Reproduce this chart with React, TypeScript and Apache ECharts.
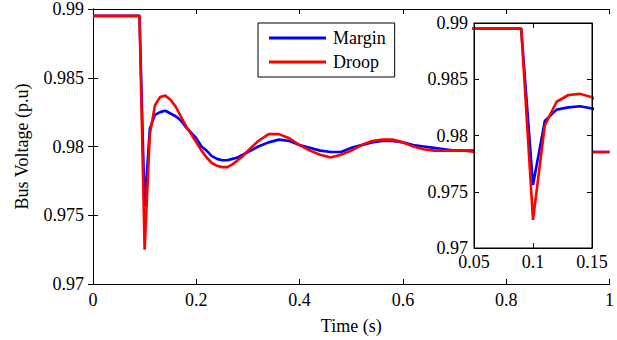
import React, { useEffect, useRef } from "react";
import * as echarts from "echarts";

const time = [0, 0.09, 0.10, 0.11, 0.12, 0.13, 0.14, 0.15, 0.16, 0.17, 0.18, 0.19, 0.20, 0.21, 0.22, 0.23, 0.24, 0.25, 0.26, 0.27, 0.28, 0.29, 0.30, 0.32, 0.34, 0.36, 0.38, 0.40, 0.42, 0.44, 0.46, 0.48, 0.50, 0.52, 0.54, 0.56, 0.58, 0.60, 0.62, 0.64, 0.66, 0.68, 0.70, 0.72, 0.74, 0.80, 0.90, 1.00];
const droop = [0.9895, 0.9895, 0.9725, 0.9809, 0.9830, 0.9836, 0.9837, 0.9834, 0.9829, 0.9822, 0.9815, 0.9809, 0.9803, 0.9797, 0.9792, 0.9788, 0.9786, 0.9785, 0.9785, 0.9787, 0.9790, 0.9793, 0.9797, 0.9804, 0.9809, 0.9809, 0.9806, 0.9801, 0.9797, 0.9794, 0.9792, 0.9794, 0.9797, 0.9801, 0.9804, 0.9805, 0.9805, 0.9803, 0.9800, 0.9798, 0.9797, 0.9797, 0.9797, 0.9797, 0.9796, 0.9796, 0.9796, 0.9796];
const margin = [0.9895, 0.9895, 0.9756, 0.9813, 0.9823, 0.9825, 0.9826, 0.9824, 0.9822, 0.9819, 0.9814, 0.9810, 0.9806, 0.9800, 0.9797, 0.9793, 0.9791, 0.9790, 0.9790, 0.9791, 0.9792, 0.9794, 0.9796, 0.9800, 0.9803, 0.9805, 0.9804, 0.9801, 0.9799, 0.9797, 0.9796, 0.9796, 0.9799, 0.9801, 0.9803, 0.9804, 0.9804, 0.9803, 0.9801, 0.9800, 0.9799, 0.9798, 0.9797, 0.9797, 0.9797, 0.9796, 0.9796, 0.9796];
const seriesNames = ["Margin", "Droop"];
const xAxisTitle = "Time (s)";
const yAxisTitle = "Bus Voltage (p.u)";

const FONT = '"Liberation Serif", "Times New Roman", serif';
const fmt = (v: number) => String(+v.toFixed(3));

export default function App() {
  const ref = useRef<HTMLDivElement>(null);
  useEffect(() => {
    if (!ref.current) return;
    const chart = echarts.init(ref.current, null, { renderer: "svg" });
    const pair = (vals: number[]) => time.map((t, i) => [t, vals[i]]);
    const axisLine = { show: true, lineStyle: { color: "#000", width: 1 } };
    const tick = { show: true, inside: true, length: 5, lineStyle: { color: "#000" } };
    const label = { fontSize: 18, fontFamily: FONT, color: "#000", formatter: fmt };
    const mkLine = (name: string, vals: number[], color: string, xi: number, yi: number, z: number) => ({
      type: "line",
      name,
      data: pair(vals),
      xAxisIndex: xi,
      yAxisIndex: yi,
      showSymbol: false,
      symbol: "none",
      z,
      clip: true,
      lineStyle: { color, width: 2.6 },
      itemStyle: { color },
    });
    chart.setOption({
      animation: false,
      backgroundColor: "#fff",
      grid: [
        { left: 93, top: 8, width: 520, height: 276, show: false },
        { left: 474, top: 23, width: 118, height: 225, show: true, backgroundColor: "#fff", borderColor: "#000", borderWidth: 1, z: 5 },
      ],
      legend: {
        orient: "vertical",
        left: 258,
        top: 23,
        padding: [6, 9, 6, 11],
        itemWidth: 57,
        itemHeight: 3,
        itemGap: 6,
        icon: "rect",
        borderColor: "#000",
        borderWidth: 1,
        borderRadius: 0,
        backgroundColor: "#fff",
        textStyle: { fontSize: 18, fontFamily: FONT, color: "#000", padding: [0, 0, 0, 2] },
        data: seriesNames,
        z: 8,
      },
      xAxis: [
        {
          gridIndex: 0, type: "value", min: 0, max: 1, interval: 0.2, position: "bottom",
          axisLine, axisTick: tick, splitLine: { show: false },
          axisLabel: { ...label, margin: 7 },
          name: xAxisTitle, nameLocation: "middle", nameGap: 33,
          nameTextStyle: { fontSize: 18, fontFamily: FONT, color: "#000" },
        },
        {
          gridIndex: 0, type: "value", min: 0, max: 1, interval: 0.2, position: "top",
          axisLine, axisTick: tick, splitLine: { show: false }, axisLabel: { show: false },
        },
        {
          gridIndex: 1, type: "value", min: 0.05, max: 0.15, interval: 0.05, position: "bottom", z: 7,
          axisLine, axisTick: tick, splitLine: { show: false },
          axisLabel: { ...label, margin: 5 },
        },
        {
          gridIndex: 1, type: "value", min: 0.05, max: 0.15, interval: 0.05, position: "top", z: 7,
          axisLine, axisTick: tick, splitLine: { show: false }, axisLabel: { show: false },
        },
      ],
      yAxis: [
        {
          gridIndex: 0, type: "value", min: 0.97, max: 0.99, interval: 0.005, position: "left",
          axisLine, axisTick: tick, splitLine: { show: false },
          axisLabel: { ...label, margin: 9 },
          name: yAxisTitle, nameLocation: "middle", nameGap: 62,
          nameTextStyle: { fontSize: 18, fontFamily: FONT, color: "#000" },
        },
        {
          gridIndex: 0, type: "value", min: 0.97, max: 0.99, interval: 0.005, position: "right",
          axisLine, axisTick: tick, splitLine: { show: false }, axisLabel: { show: false },
        },
        {
          gridIndex: 1, type: "value", min: 0.97, max: 0.99, interval: 0.005, position: "left", z: 7,
          axisLine, axisTick: tick, splitLine: { show: false },
          axisLabel: { ...label, margin: 6 },
        },
        {
          gridIndex: 1, type: "value", min: 0.97, max: 0.99, interval: 0.005, position: "right", z: 7,
          axisLine, axisTick: tick, splitLine: { show: false }, axisLabel: { show: false },
        },
      ],
      series: [
        mkLine(seriesNames[0], margin, "#0000ff", 0, 0, 2),
        mkLine(seriesNames[1], droop, "#ff0000", 0, 0, 3),
        mkLine(seriesNames[0], margin, "#0000ff", 2, 2, 6),
        mkLine(seriesNames[1], droop, "#ff0000", 2, 2, 6),
      ],
    });
    return () => chart.dispose();
  }, []);
  return (
    <div
      ref={ref}
      style={{ position: "fixed", left: 0, top: 0, width: 617, height: 340, background: "#fff" }}
    />
  );
}
